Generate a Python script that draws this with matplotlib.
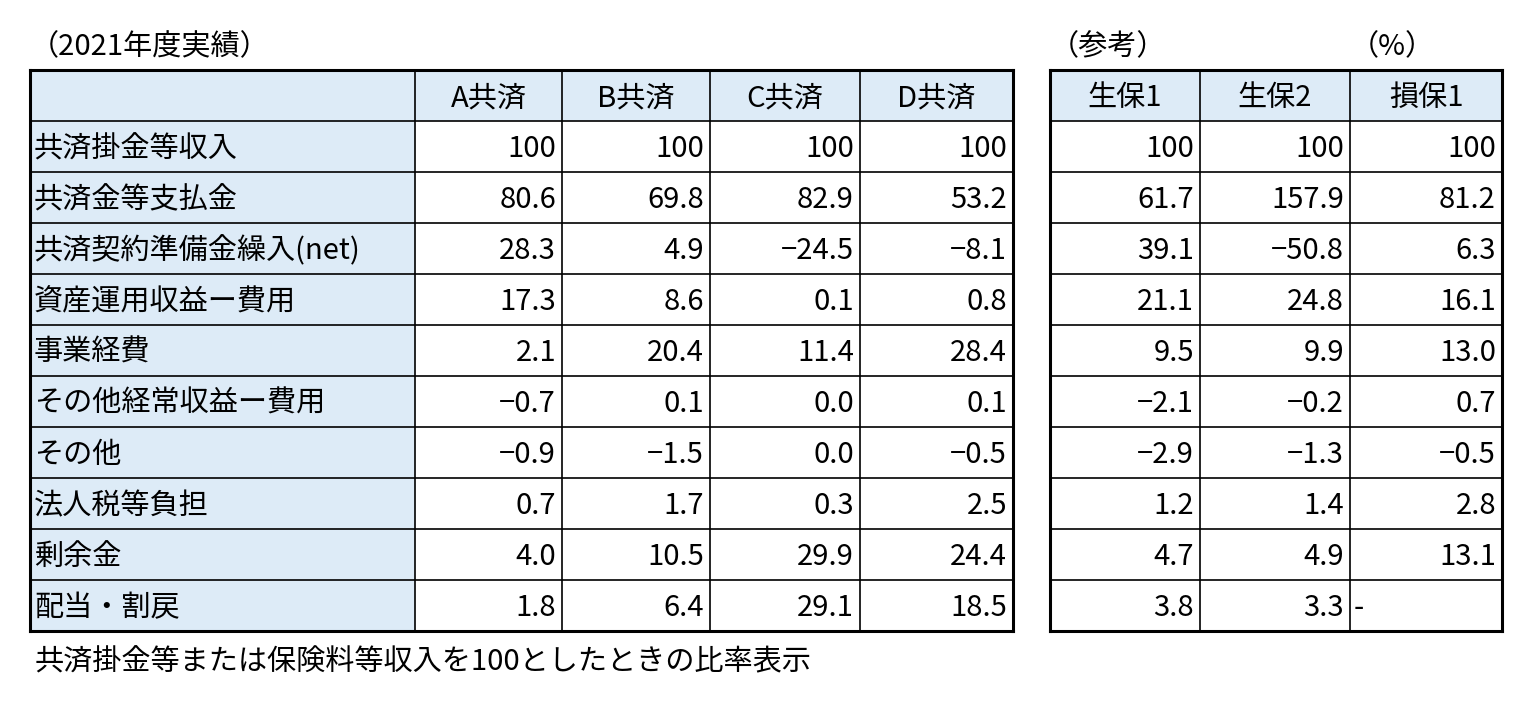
import matplotlib
matplotlib.use("Agg")
import matplotlib.pyplot as plt
from matplotlib.patches import Rectangle

plt.rcParams['font.family'] = ['Noto Sans CJK JP', 'DejaVu Sans']

rows = ["共済掛金等収入", "共済金等支払金", "共済契約準備金繰入(net)", "資産運用収益ー費用",
        "事業経費", "その他経常収益ー費用", "その他", "法人税等負担", "剰余金", "配当・割戻"]
left_cols = ["A共済", "B共済", "C共済", "D共済"]
right_cols = ["生保1", "生保2", "損保1"]

a_kyosai = [100, 80.6, 28.3, 17.3, 2.1, -0.7, -0.9, 0.7, 4.0, 1.8]
b_kyosai = [100, 69.8, 4.9, 8.6, 20.4, 0.1, -1.5, 1.7, 10.5, 6.4]
c_kyosai = [100, 82.9, -24.5, 0.1, 11.4, 0.0, 0.0, 0.3, 29.9, 29.1]
d_kyosai = [100, 53.2, -8.1, 0.8, 28.4, 0.1, -0.5, 2.5, 24.4, 18.5]
seiho1 = [100, 61.7, 39.1, 21.1, 9.5, -2.1, -2.9, 1.2, 4.7, 3.8]
seiho2 = [100, 157.9, -50.8, 24.8, 9.9, -0.2, -1.3, 1.4, 4.9, 3.3]
sonpo1 = [100, 81.2, 6.3, 16.1, 13.0, 0.7, -0.5, 2.8, 13.1, None]

title_left = "（2021年度実績）"
title_ref = "（参考）"
title_pct = "（%）"
footnote = "共済掛金等または保険料等収入を100としたときの比率表示"

W, H = 1535, 712
fig = plt.figure(figsize=(W / 100, H / 100), dpi=100)
ax = fig.add_axes([0, 0, 1, 1])
ax.set_xlim(0, W)
ax.set_ylim(H, 0)
ax.axis('off')

blue = '#DDEBF7'
fs = 21
top, rh = 70, 51
left_x = [30, 415, 562, 710, 860, 1013]
right_x = [1050, 1200, 1350, 1502]
bottom = top + rh * (len(rows) + 1)


def fmt(v):
    if v is None:
        return None
    if v == 100:
        return "100"
    return f"{v:.1f}".replace("-", "−")


def draw_table(xs, cols, series, label_col):
    nrow = len(rows) + 1
    # fills
    ax.add_patch(Rectangle((xs[0], top), xs[-1] - xs[0], rh, facecolor=blue, edgecolor='none'))
    if label_col:
        ax.add_patch(Rectangle((xs[0], top), xs[1] - xs[0], rh * nrow, facecolor=blue, edgecolor='none'))
    # grid
    for i in range(nrow + 1):
        y = top + i * rh
        ax.plot([xs[0], xs[-1]], [y, y], color='black', lw=1.2 if 0 < i < nrow else 2.2)
    for j, x in enumerate(xs):
        ax.plot([x, x], [top, bottom], color='black', lw=2.2 if j in (0, len(xs) - 1) else 1.2)
    c0 = 1 if label_col else 0
    for j, name in enumerate(cols):
        ax.text((xs[c0 + j] + xs[c0 + j + 1]) / 2, top + rh * 0.55, name,
                ha='center', va='center', fontsize=fs)
    for i, r in enumerate(rows):
        yc = top + (i + 1.55) * rh
        if label_col:
            ax.text(xs[0] + 4, yc, r, ha='left', va='center', fontsize=fs)
        for j, s in enumerate(series):
            t = fmt(s[i])
            if t is None:
                ax.text(xs[c0 + j] + 4, yc, "-", ha='left', va='center', fontsize=fs)
            else:
                ax.text(xs[c0 + j + 1] - 6, yc, t, ha='right', va='center', fontsize=fs)


draw_table(left_x, left_cols, [a_kyosai, b_kyosai, c_kyosai, d_kyosai], True)
draw_table(right_x, right_cols, [seiho1, seiho2, sonpo1], False)

ax.text(30, 47, title_left, ha='left', va='center', fontsize=fs)
ax.text(1050, 47, title_ref, ha='left', va='center', fontsize=fs)
ax.text(1350, 47, title_pct, ha='left', va='center', fontsize=fs)
ax.text(35, 662, footnote, ha='left', va='center', fontsize=fs)

fig.savefig("out.png", dpi=100, facecolor='white')
